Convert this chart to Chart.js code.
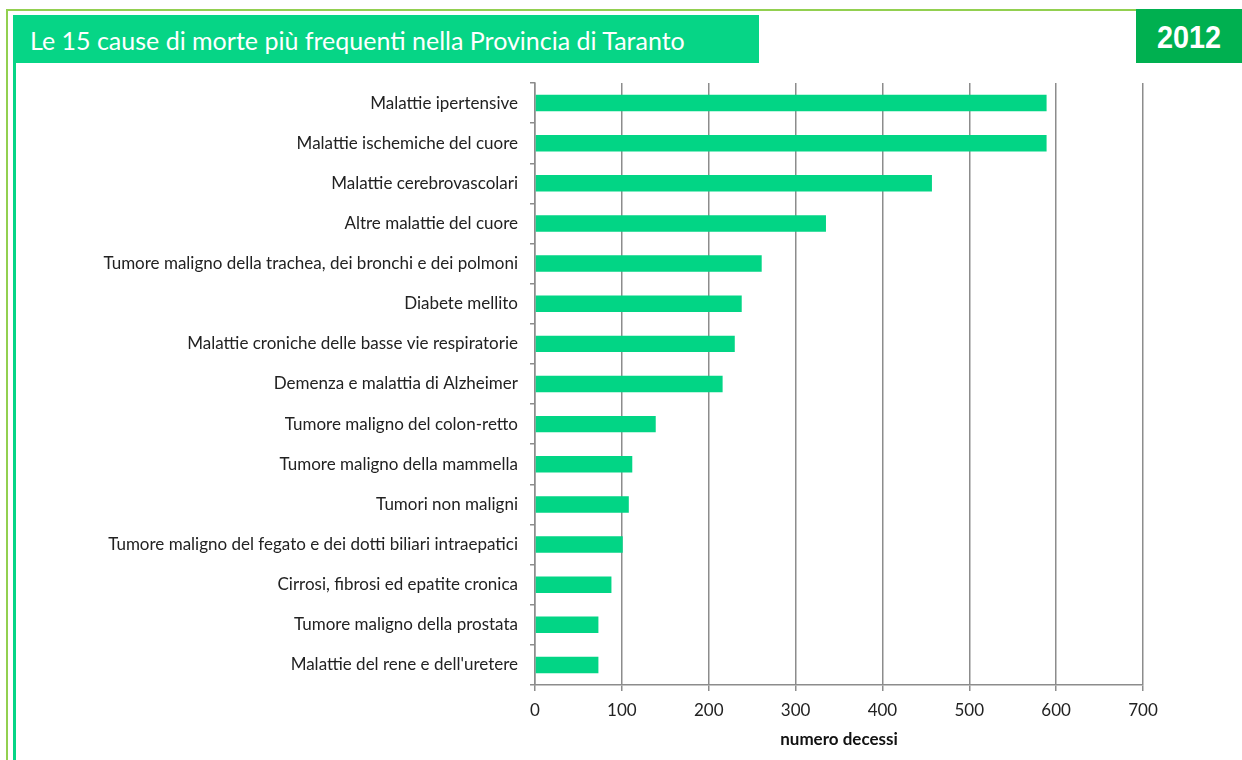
<!DOCTYPE html>
<html>
<head>
<meta charset="utf-8">
<script src="https://cdn.jsdelivr.net/npm/chart.js@4"></script>
<style>
  html, body { margin: 0; padding: 0; background: #fff; }
  #page { position: relative; width: 1242px; height: 760px; overflow: hidden; }
  .frame-top { position: absolute; left: 6px; top: 9px; width: 1130px; height: 2px; background: #92d050; }
  .frame-left { position: absolute; left: 6px; top: 9px; width: 2px; height: 760px; background: #92d050; }
  .frame-left2 { position: absolute; left: 13px; top: 15px; width: 3px; height: 760px; background: #06d586; }
  #header { position: absolute; left: 13px; top: 15px; width: 746px; height: 48px; background: #06d586;
    color: #fff; font-family: Lato, "Open Sans", sans-serif; font-size: 25px; line-height: 50px;
    padding-left: 17px; box-sizing: border-box; }
  #year { position: absolute; left: 1136px; top: 9px; width: 106px; height: 54px; background: #00b050; }
  #year span { position: absolute; left: 0; top: 0; width: 106px; text-align: center;
    color: #fff; font-family: "Liberation Sans", Arial, sans-serif; font-weight: bold; font-size: 32px;
    line-height: 56px; transform: scaleX(0.9); }
  #wrap { position: absolute; left: 0; top: 0; width: 1242px; height: 760px; }
</style>
</head>
<body>
<div id="page">
  <div class="frame-top"></div>
  <div class="frame-left"></div>
  <div class="frame-left2"></div>
  <div id="header">Le 15 cause di morte più frequenti nella Provincia di Taranto</div>
  <div id="year"><span>2012</span></div>
  <div id="wrap"><canvas id="chart"></canvas></div>
</div>
<script>
// cause di morte, provincia di Taranto 2012
var cause = [
  "Malattie ipertensive",
  "Malattie ischemiche del cuore",
  "Malattie cerebrovascolari",
  "Altre malattie del cuore",
  "Tumore maligno della trachea, dei bronchi e dei polmoni",
  "Diabete mellito",
  "Malattie croniche delle basse vie respiratorie",
  "Demenza e malattia di Alzheimer",
  "Tumore maligno del colon-retto",
  "Tumore maligno della mammella",
  "Tumori non maligni",
  "Tumore maligno del fegato e dei dotti biliari intraepatici",
  "Cirrosi, fibrosi ed epatite cronica",
  "Tumore maligno della prostata",
  "Malattie del rene e dell'uretere"
];
var decessi = [589, 589, 457, 335, 261, 238, 230, 216, 139, 112, 108, 101, 88, 73, 73];
var xTicks = [0, 100, 200, 300, 400, 500, 600, 700];

var labelFont = { family: "Lato, 'Open Sans', sans-serif", size: 17 };
var gridGrey = "#8c8c8c";

var ctx = document.getElementById("chart").getContext("2d");
var chart = new Chart(ctx, {
  type: "bar",
  data: {
    labels: cause,
    datasets: [{
      data: decessi,
      backgroundColor: "#02d585",
      borderWidth: 0,
      barPercentage: 0.82,
      categoryPercentage: 0.5
    }]
  },
  options: {
    indexAxis: "y",
    responsive: true,
    maintainAspectRatio: false,
    animation: false,
    layout: { padding: { top: 83, right: 99, bottom: 0, left: 20 } },
    plugins: { legend: { display: false }, tooltip: { enabled: false } },
    scales: {
      x: {
        min: xTicks[0],
        max: xTicks[xTicks.length - 1],
        afterBuildTicks: function(scale) {
          scale.ticks = xTicks.map(function(v) { return { value: v }; });
        },
        afterFit: function(scale) { scale.height = 75; },
        grid: { color: gridGrey, lineWidth: 1.5, tickLength: 6, tickColor: gridGrey },
        border: { color: gridGrey, width: 1.5 },
        ticks: { color: "#222", font: labelFont, padding: 9, maxRotation: 0 },
        title: {
          display: true,
          text: "numero decessi",
          color: "#111",
          font: { family: "Lato, 'Open Sans', sans-serif", size: 17, weight: "bold" },
          padding: { top: 2, bottom: 10 }
        }
      },
      y: {
        afterFit: function(scale) { scale.width = 515; },
        grid: { drawOnChartArea: false, offset: true, tickLength: 5, color: gridGrey, lineWidth: 1.5 },
        border: { color: gridGrey, width: 1.5 },
        ticks: { color: "#222", font: labelFont, padding: 12, autoSkip: false }
      }
    }
  }
});
</script>
</body>
</html>
